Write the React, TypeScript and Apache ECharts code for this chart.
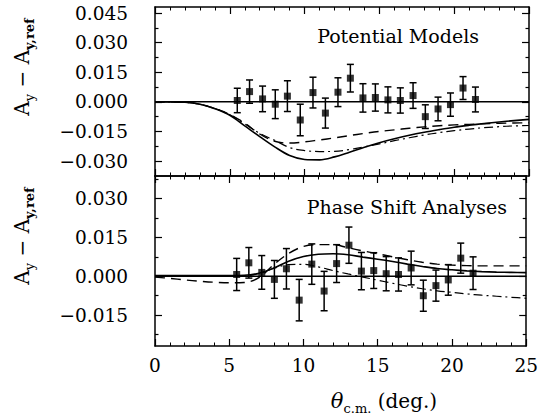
import React, { useEffect, useRef } from "react";
import * as echarts from "echarts";

// ---- data ----
const dataTheta = [5.5, 6.32, 7.19, 8.04, 8.85, 9.71, 10.56, 11.39, 12.23, 13.06, 13.9, 14.73, 15.57, 16.4, 17.25, 18.07, 18.92, 19.75, 20.59, 21.42];
const dataDAy = [0.0007, 0.0052, 0.0015, -0.0012, 0.0029, -0.0092, 0.0047, -0.0057, 0.0049, 0.012, 0.002, 0.0022, 0.001, 0.0007, 0.0032, -0.0075, -0.0036, -0.0014, 0.007, 0.0012];
const dataErr = [0.0062, 0.0059, 0.0065, 0.0073, 0.0078, 0.008, 0.0078, 0.0076, 0.0073, 0.007, 0.0072, 0.0069, 0.0066, 0.0064, 0.0065, 0.006, 0.006, 0.0059, 0.0058, 0.0063];

const curveTheta = [0, 1, 2, 3, 4, 5, 6, 7, 8, 9, 10, 11, 12, 13, 14, 15, 16, 17, 18, 19, 20, 21, 22, 23, 24, 25];
// Potential models (top)
const potSolid = [0, 0, -0.0002, -0.0012, -0.0035, -0.0068, -0.0122, -0.0176, -0.0228, -0.0272, -0.0292, -0.0294, -0.0279, -0.0255, -0.0230, -0.0207, -0.0187, -0.0169, -0.0154, -0.0141, -0.0129, -0.0119, -0.0110, -0.0102, -0.0095, -0.0089];
const potDashed = [0, 0, -0.0002, -0.0012, -0.0034, -0.0064, -0.0108, -0.0163, -0.0200, -0.0209, -0.0203, -0.0193, -0.0183, -0.0171, -0.0160, -0.0150, -0.0142, -0.0134, -0.0127, -0.0121, -0.0117, -0.0114, -0.0111, -0.0109, -0.0107, -0.0106];
const potDashDot = [0, 0, -0.0002, -0.0012, -0.0034, -0.0065, -0.0112, -0.0160, -0.0195, -0.0232, -0.0247, -0.0252, -0.0251, -0.0242, -0.0228, -0.0213, -0.0197, -0.0182, -0.0168, -0.0156, -0.0146, -0.0138, -0.0131, -0.0126, -0.0122, -0.0120];
// Phase shift analyses (bottom)
const psaSolid = [0.0003, 0.0003, 0.0003, 0.0003, 0.0003, 0.0003, 0.0004, 0.0012, 0.0032, 0.0058, 0.0076, 0.0085, 0.0087, 0.0083, 0.0074, 0.0066, 0.0057, 0.0047, 0.0038, 0.0030, 0.0025, 0.0021, 0.0018, 0.0016, 0.0015, 0.0014];
const psaDashed = [-0.0003, -0.0008, -0.0014, -0.0019, -0.0023, -0.0025, -0.0024, -0.0005, 0.0045, 0.0088, 0.0115, 0.0122, 0.0122, 0.0110, 0.0098, 0.0087, 0.0075, 0.0064, 0.0054, 0.0047, 0.0043, 0.0041, 0.0040, 0.0040, 0.0040, 0.0040];
const psaDashDot = [0, 0, 0, 0, 0, 0, 0.0001, 0.0010, 0.0030, 0.0045, 0.0046, 0.0036, 0.0022, 0.0009, -0.0003, -0.0015, -0.0027, -0.0038, -0.0048, -0.0056, -0.0062, -0.0068, -0.0073, -0.0077, -0.0081, -0.0085];

const zeroLine = [[0, 0], [25, 0]];

const topRange = [-0.0376, 0.0481];
const botRange = [-0.0269, 0.0387];
const topMajor = [-0.03, -0.015, 0, 0.015, 0.03, 0.045];
const topMinor = [-0.0225, -0.0075, 0.0075, 0.0225, 0.0375];
const botMajor = [-0.015, 0, 0.015, 0.03];
const botMinor = [-0.0225, -0.0075, 0.0075, 0.0225, 0.0375];

const FONT = "DejaVu Serif";

function fmt(v: number) {
  const s = Math.abs(v).toFixed(3);
  return v < -1e-9 ? "\u2212" + s : s;
}

export default function App() {
  const ref = useRef<HTMLDivElement>(null);
  useEffect(() => {
    if (!ref.current) return;
    const chart = echarts.init(ref.current, null, { renderer: "svg" });
    const black = "#000";

    const xAxis = (grid: number, position: string, labels: boolean) => ({
      type: "value",
      gridIndex: grid,
      position,
      min: 0,
      max: 25,
      interval: 5,
      axisLine: { show: true, onZero: false, lineStyle: { color: black, width: 1.5 } },
      axisTick: { show: true, inside: true, length: 7, lineStyle: { color: black, width: 1.2 } },
      minorTick: { show: true, splitNumber: 5, length: 3.5, lineStyle: { color: black, width: 1 } },
      axisLabel: { show: labels, color: black, fontFamily: FONT, fontSize: 18.5, margin: 10 },
      splitLine: { show: false },
    });

    const yAxis = (grid: number, position: string, range: number[], ticks: number[], len: number, labels: boolean, line: boolean) => ({
      type: "value",
      gridIndex: grid,
      position,
      min: range[0],
      max: range[1],
      axisLine: { show: line, onZero: false, lineStyle: { color: black, width: 1.5 } },
      axisTick: { show: true, inside: true, length: len, customValues: ticks, lineStyle: { color: black, width: 1.2 } },
      axisLabel: {
        show: labels,
        customValues: ticks,
        formatter: (v: number) => fmt(v),
        color: black,
        fontFamily: FONT,
        fontSize: 18.5,
        margin: 27,
      },
      splitLine: { show: false },
    });

    const pairs = (xs: number[], ys: number[]) => xs.map((x, i) => [x, ys[i]]);
    const pts = dataTheta.map((t, i) => [t, dataDAy[i], dataErr[i]]);

    const errBar = (xi: number, yi: number) => ({
      type: "custom",
      xAxisIndex: xi,
      yAxisIndex: yi,
      data: pts,
      z: 4,
      renderItem: (params: any, api: any) => {
        const x = api.value(0);
        const y = api.value(1);
        const e = api.value(2);
        const p1 = api.coord([x, y + e]);
        const p2 = api.coord([x, y - e]);
        const st = { stroke: black, lineWidth: 1.5 };
        return {
          type: "group",
          children: [
            { type: "line", shape: { x1: p1[0], y1: p1[1], x2: p2[0], y2: p2[1] }, style: st },
            { type: "line", shape: { x1: p1[0] - 3.5, y1: p1[1], x2: p1[0] + 3.5, y2: p1[1] }, style: st },
            { type: "line", shape: { x1: p2[0] - 3.5, y1: p2[1], x2: p2[0] + 3.5, y2: p2[1] }, style: st },
          ],
        };
      },
    });

    const scatter = (xi: number, yi: number) => ({
      type: "scatter",
      xAxisIndex: xi,
      yAxisIndex: yi,
      data: pts.map((p) => [p[0], p[1]]),
      symbol: "rect",
      symbolSize: 7,
      itemStyle: { color: black },
      z: 5,
    });

    const line = (xi: number, yi: number, data: number[][], type: any, width: number) => ({
      type: "line",
      xAxisIndex: xi,
      yAxisIndex: yi,
      data,
      showSymbol: false,
      symbol: "none",
      smooth: 0.35,
      lineStyle: { color: black, width, type },
      z: 3,
    });

    const yTitle = (y: number) => ({
      type: "text",
      x: 22,
      y,
      rotation: Math.PI / 2,
      style: {
        text: "{a|A}{s|y}{a| \u2212 A}{b|y,ref}",
        align: "center",
        verticalAlign: "middle",
        fill: black,
        rich: {
          a: { fontFamily: FONT, fontSize: 20, lineHeight: 28, verticalAlign: "middle" },
          s: { fontFamily: FONT, fontSize: 13, lineHeight: 15, verticalAlign: "bottom" },
          b: { fontFamily: FONT, fontSize: 13, fontWeight: "bold", lineHeight: 15, verticalAlign: "bottom" },
        },
      },
    });

    const option: any = {
      animation: false,
      backgroundColor: "#fff",
      grid: [
        { left: 155, right: 12, top: 7, height: 169 },
        { left: 155, right: 12, top: 176, height: 170 },
      ],
      xAxis: [
        xAxis(0, "bottom", false),
        xAxis(0, "top", false),
        xAxis(1, "bottom", true),
        xAxis(1, "top", false),
      ],
      yAxis: [
        yAxis(0, "left", topRange, topMajor, 7, true, true),
        yAxis(0, "left", topRange, topMinor, 3.5, false, false),
        yAxis(0, "right", topRange, topMajor, 7, false, true),
        yAxis(0, "right", topRange, topMinor, 3.5, false, false),
        yAxis(1, "left", botRange, botMajor, 7, true, true),
        yAxis(1, "left", botRange, botMinor, 3.5, false, false),
        yAxis(1, "right", botRange, botMajor, 7, false, true),
        yAxis(1, "right", botRange, botMinor, 3.5, false, false),
      ],
      series: [
        line(0, 0, zeroLine, "solid", 1.5),
        line(0, 0, pairs(curveTheta, potSolid), "solid", 1.6),
        line(0, 0, pairs(curveTheta, potDashed), [10, 6], 1.4),
        line(0, 0, pairs(curveTheta, potDashDot), [9, 4, 2, 4], 1.2),
        errBar(0, 0),
        scatter(0, 0),
        line(2, 4, zeroLine, "solid", 1.5),
        line(2, 4, pairs(curveTheta, psaSolid), "solid", 1.6),
        line(2, 4, pairs(curveTheta, psaDashed), [10, 6], 1.4),
        line(2, 4, pairs(curveTheta, psaDashDot), [9, 4, 2, 4], 1.2),
        errBar(2, 4),
        scatter(2, 4),
      ],
      graphic: [
        {
          type: "text",
          right: 541 - 479,
          top: 26,
          style: { text: "Potential Models", fontFamily: FONT, fontSize: 19, fill: black },
        },
        {
          type: "text",
          right: 541 - 507,
          top: 197,
          style: { text: "Phase Shift Analyses", fontFamily: FONT, fontSize: 19, fill: black },
        },
        yTitle(67),
        yTitle(236),
        {
          type: "text",
          x: 384,
          y: 401,
          style: {
            text: "{t|\u03b8}{s|c.m.}{a| (deg.)}",
            align: "center",
            verticalAlign: "middle",
            fill: black,
            rich: {
              t: { fontFamily: FONT, fontSize: 21, fontStyle: "italic", lineHeight: 28, verticalAlign: "middle" },
              s: { fontFamily: FONT, fontSize: 13, lineHeight: 15, verticalAlign: "bottom" },
              a: { fontFamily: FONT, fontSize: 20, lineHeight: 28, verticalAlign: "middle" },
            },
          },
        },
      ],
    };
    chart.setOption(option);
    return () => chart.dispose();
  }, []);
  return <div ref={ref} style={{ position: "absolute", left: 0, top: 0, width: 541, height: 417 }} />;
}
